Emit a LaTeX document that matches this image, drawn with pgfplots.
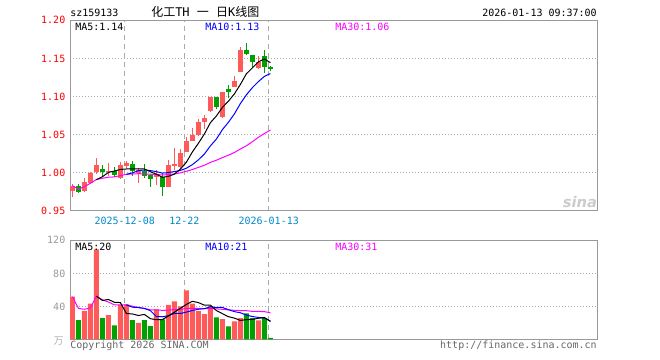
\documentclass[border=0pt]{standalone}
\usepackage{pgfplots}
\pgfplotsset{compat=1.18}
\usepackage{pgfplotstable}
\usepackage{fontspec}
\setmonofont{DejaVu Sans Mono}
\newfontfamily\cjk{Noto Sans CJK SC}
\newfontfamily\wmfont{DejaVu Sans}
\definecolor{cred}{RGB}{255,90,90}
\definecolor{cgreen}{RGB}{0,160,0}
\definecolor{mablue}{RGB}{0,0,255}
\definecolor{mamag}{RGB}{255,0,255}
\definecolor{datecol}{RGB}{0,136,204}
\definecolor{framegray}{RGB}{153,153,153}
\definecolor{gridgray}{RGB}{170,170,170}
\definecolor{txtgray}{RGB}{102,102,102}

\pgfplotstableread{
x o h l c
0 0.9765 0.9850 0.9690 0.9830
2 0.9760 0.9933 0.9750 0.9880
3 0.9870 1.0010 0.9860 1.0000
4 1.0015 1.0195 0.9985 1.0103
6 1.0015 1.0126 0.9963 1.0030
8 0.9937 1.0147 0.9920 1.0103
9 1.0094 1.0155 1.0070 1.0133
11 1.0000 1.0060 0.9870 1.0037
14 0.9950 1.0035 0.9845 0.9970
16 0.9818 1.0168 0.9810 1.0103
17 1.0095 1.0322 1.0037 1.0110
18 1.0073 1.0309 1.0060 1.0256
19 1.0277 1.0466 1.0270 1.0418
20 1.0422 1.0584 1.0415 1.0496
21 1.0492 1.0702 1.0485 1.0667
22 1.0670 1.0758 1.0571 1.0715
23 1.0811 1.0998 1.0800 1.0994
25 1.0736 1.1065 1.0725 1.1060
27 1.1130 1.1270 1.1130 1.1204
28 1.1326 1.1646 1.1320 1.1610
31 1.1370 1.1532 1.1360 1.1457
}\redk

\pgfplotstableread{
x o h l c
1 0.9830 0.9855 0.9732 0.9745
5 1.0050 1.0103 0.9963 1.0015
7 1.0024 1.0080 0.9942 0.9972
10 1.0112 1.0150 0.9960 1.0020
12 1.0024 1.0116 0.9929 0.9963
13 0.9972 0.9990 0.9815 0.9920
15 0.9950 0.9994 0.9700 0.9818
24 1.0998 1.1000 1.0841 1.0860
26 1.1096 1.1152 1.0977 1.1064
29 1.1610 1.1698 1.1545 1.1558
30 1.1545 1.1550 1.1392 1.1450
32 1.1532 1.1610 1.1313 1.1392
33 1.1384 1.1405 1.1340 1.1366
}\greenk

\pgfplotstableread{
x v
0 51.8
2 34.3
3 43.4
4 109
6 29.5
8 42
9 42.6
11 20
14 36.3
16 42
17 46.2
18 40
19 59.4
20 43.4
21 34.3
22 30.7
23 40
25 24.7
27 22
28 26
31 23
}\redv

\pgfplotstableread{
x v
1 23.5
5 26
7 17
10 23.5
12 23.5
13 16.3
15 24.3
24 26.7
26 16
29 31.5
30 26
32 26
33 2
}\greenv

\pgfplotsset{
  kax/.style={
    scale only axis, width=395.25pt, xmin=-0.4, xmax=87.43,
    axis line style={color=framegray, line width=0.75pt},
    major tick length=0pt,
    xtick={8.72,18.65,32.72},
    xmajorgrids, ymajorgrids,
    x grid style={color=gridgray, line width=0.75pt, dash pattern=on 3.75pt off 3pt},
    y grid style={color=gridgray, line width=0.75pt, dash pattern=on 0.75pt off 1.5pt},
    tick label style={font=\ttfamily\fontsize{7.5}{8}\selectfont},
  },
  wick/.style={mark=none, draw=none, forget plot, error bars/.cd, y dir=both, y explicit, error mark=none,
    error bar style={line width=0.75pt, draw=#1, solid}},
  body/.style={mark=none, draw=none, forget plot, error bars/.cd, y dir=both, y explicit, error mark=none,
    error bar style={line width=3.75pt, draw=#1, solid}},
}

\begin{document}
\begin{tikzpicture}[x=0.75pt,y=0.75pt]
\path[use as bounding box] (0,0) rectangle (660,360);

% ---------------- upper: price ----------------
\begin{axis}[kax, at={(52.5pt,111.75pt)}, anchor=south west, height=143pt,
  ymin=0.95, ymax=1.20,
  ytick={0.95,1.00,1.05,1.10,1.15,1.20},
  yticklabels={0.95,1.00,1.05,1.10,1.15,1.20},
  yticklabel style={text=red},
  xticklabels={2025-12-08,12-22,2026-01-13},
  xticklabel style={text=datecol, anchor=center, yshift=-7.5pt},
]
\addplot[wick=cred] table[x=x, y expr={(\thisrow{h}+\thisrow{l})/2}, y error expr={(\thisrow{h}-\thisrow{l})/2}] {\redk};
\addplot[body=cred] table[x=x, y expr={(\thisrow{o}+\thisrow{c})/2}, y error expr={abs(\thisrow{c}-\thisrow{o})/2}] {\redk};
\addplot[wick=cgreen] table[x=x, y expr={(\thisrow{h}+\thisrow{l})/2}, y error expr={(\thisrow{h}-\thisrow{l})/2}] {\greenk};
\addplot[body=cgreen] table[x=x, y expr={(\thisrow{o}+\thisrow{c})/2}, y error expr={abs(\thisrow{c}-\thisrow{o})/2}] {\greenk};
% MA30
\addplot[mamag, line width=0.75pt, no marks] coordinates {
(0,0.9830)(1,0.9788)(2,0.9818)(3,0.9864)(4,0.9912)(5,0.9929)(6,0.9943)(7,0.9947)(8,0.9964)(9,0.9981)
(10,0.9985)(11,0.9989)(12,0.9987)(13,0.9982)(14,0.9981)(15,0.9971)(16,0.9979)(17,0.9986)(18,1.0000)(19,1.0021)
(20,1.0044)(21,1.0072)(22,1.0100)(23,1.0137)(24,1.0166)(25,1.0200)(26,1.0232)(27,1.0267)(28,1.0313)(29,1.0355)
(30,1.0409)(31,1.0466)(32,1.0516)(33,1.0562)};
% MA10
\addplot[mablue, line width=0.75pt, no marks] coordinates {
(9,0.9981)(10,1.0000)(11,1.0029)(12,1.0038)(13,1.0030)(14,1.0016)(15,0.9997)(16,1.0004)(17,1.0017)(18,1.0032)
(19,1.0061)(20,1.0108)(21,1.0171)(22,1.0247)(23,1.0354)(24,1.0443)(25,1.0567)(26,1.0663)(27,1.0773)(28,1.0909)
(29,1.1023)(30,1.1118)(31,1.1197)(32,1.1265)(33,1.1302)};
% MA5
\addplot[black, line width=0.75pt, no marks] coordinates {
(4,0.9912)(5,0.9949)(6,1.0006)(7,1.0024)(8,1.0045)(9,1.0051)(10,1.0052)(11,1.0053)(12,1.0051)(13,1.0015)
(14,0.9982)(15,0.9942)(16,0.9955)(17,0.9983)(18,1.0050)(19,1.0140)(20,1.0275)(21,1.0388)(22,1.0510)(23,1.0658)
(24,1.0746)(25,1.0859)(26,1.0939)(27,1.1036)(28,1.1160)(29,1.1299)(30,1.1377)(31,1.1456)(32,1.1493)(33,1.1445)};
\end{axis}

% ---------------- lower: volume ----------------
\begin{axis}[kax, at={(52.5pt,15.375pt)}, anchor=south west, height=74.4pt,
  ymin=0, ymax=120,
  ytick={40,80,120}, yticklabels={40,80,120},
  yticklabel style={text=framegray},
  xticklabels={},
]
\addplot[ybar, bar width=3.75pt, bar shift=0pt, fill=cred, draw=none] table[x=x, y=v] {\redv};
\addplot[ybar, bar width=3.75pt, bar shift=0pt, fill=cgreen, draw=none] table[x=x, y=v] {\greenv};
% MA30
\addplot[mamag, line width=0.75pt, no marks] coordinates {
(0,51.8)(1,37.65)(2,36.53)(3,38.25)(4,52.4)(5,48.0)(6,45.36)(7,41.81)(8,41.83)(9,41.91)
(10,40.24)(11,38.55)(12,37.39)(13,35.89)(14,35.91)(15,35.19)(16,35.59)(17,36.18)(18,36.38)(19,37.53)
(20,37.81)(21,37.65)(22,37.35)(23,37.46)(24,37.03)(25,36.55)(26,35.79)(27,35.30)(28,34.98)(29,34.86)
(30,34.00)(31,33.99)(32,33.71)(33,32.33)};
% MA10
\addplot[mablue, line width=0.75pt, no marks] coordinates {
(9,41.91)(10,39.08)(11,38.73)(12,37.65)(13,34.94)(14,27.67)(15,27.50)(16,28.75)(17,31.67)(18,31.47)
(19,33.15)(20,35.14)(21,36.57)(22,37.29)(23,39.66)(24,38.70)(25,38.74)(26,36.14)(27,33.72)(28,32.32)
(29,29.53)(30,27.79)(31,26.66)(32,26.19)(33,22.39)};
% MA5
\addplot[black, line width=0.75pt, no marks] coordinates {
(4,52.4)(5,47.24)(6,48.44)(7,44.98)(8,44.70)(9,31.42)(10,30.92)(11,29.02)(12,30.32)(13,25.18)
(14,23.92)(15,24.08)(16,28.48)(17,33.02)(18,37.76)(19,42.38)(20,46.20)(21,44.66)(22,41.56)(23,41.56)
(24,35.02)(25,31.28)(26,27.62)(27,25.88)(28,23.08)(29,24.04)(30,24.30)(31,25.70)(32,26.50)(33,21.70)};
\end{axis}

% ---------------- texts ----------------
\tikzset{tt/.style={inner sep=0pt, font=\ttfamily\fontsize{7.5}{8}\selectfont}}
\node[tt, anchor=west] at (70,347) {sz159133};
\node[inner sep=0pt, anchor=west] at (151,348) {{\cjk\fontsize{9}{10}\selectfont 化工}{\ttfamily\fontsize{9}{10}\selectfont TH }{\cjk\fontsize{9}{10}\selectfont 一}{\ttfamily\fontsize{9}{10}\selectfont\ }{\cjk\fontsize{9}{10}\selectfont 日}{\ttfamily\fontsize{9}{10}\selectfont K}{\cjk\fontsize{9}{10}\selectfont 线图}};
\node[tt, anchor=east] at (597,347) {2026-01-13 09:37:00};
\node[tt, anchor=west, text=black] at (75,333.3) {MA5:1.14};
\node[tt, anchor=west, text=mablue] at (205,333.3) {MA10:1.13};
\node[tt, anchor=west, text=mamag] at (335,333.3) {MA30:1.06};
\node[tt, anchor=west, text=black] at (75,113.3) {MA5:20};
\node[tt, anchor=west, text=mablue] at (205,113.3) {MA10:21};
\node[tt, anchor=west, text=mamag] at (335,113.3) {MA30:31};
\node[inner sep=0pt, anchor=east, text=gray!60, font=\cjk\fontsize{7.5}{8}\selectfont] at (64,19) {万};
\node[tt, anchor=base west, text=txtgray] at (70,11.3) {Copyright 2026 SINA.COM};
\node[tt, anchor=base east, text=txtgray] at (597,11.3) {http://finance.sina.com.cn};
\node[inner sep=0pt, text=gray!40, font=\wmfont\bfseries\itshape\fontsize{11}{12}\selectfont] at (580,158) {sina};
\end{tikzpicture}
\end{document}
